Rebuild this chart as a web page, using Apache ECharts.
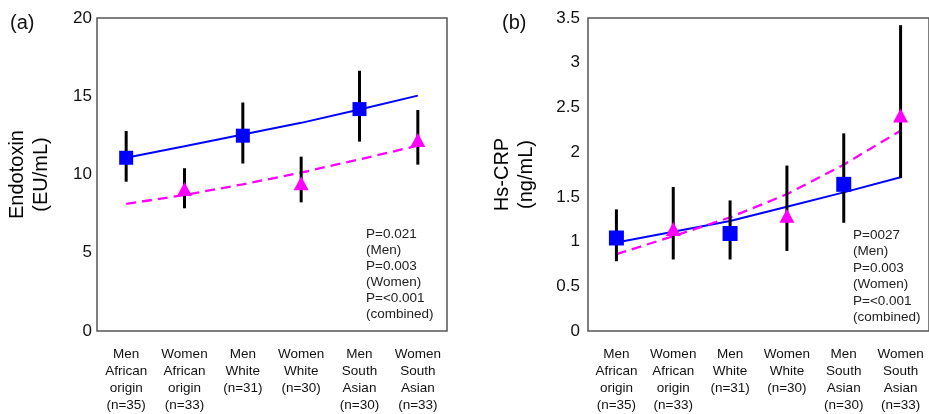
<!DOCTYPE html>
<html><head><meta charset="utf-8">
<script src="https://cdn.jsdelivr.net/npm/echarts@6/dist/echarts.min.js"></script>
<style>html,body{margin:0;padding:0;background:#fff}#c{width:929px;height:414px}</style>
</head><body><div id="c"></div>
<script>
const categories = ['Men\nAfrican\norigin\n(n=35)', 'Women\nAfrican\norigin\n(n=33)', 'Men\nWhite\n(n=31)', 'Women\nWhite\n(n=30)', 'Men\nSouth\nAsian\n(n=30)', 'Women\nSouth\nAsian\n(n=33)'];
const menIdx = [0, 2, 4];
const womenIdx = [1, 3, 5];
// Panel (a) Endotoxin
const aMen = [11.07, 12.48, 14.18];
const aWomen = [9.07, 9.44, 12.2];
const aLow = [9.54, 7.84, 10.7, 8.22, 12.1, 10.63];
const aHigh = [12.78, 10.4, 14.6, 11.14, 16.63, 14.12];
const aMenTrend = [11.07, 11.8, 12.55, 13.3, 14.15, 15.04];
const aWomenTrend = [8.12, 8.69, 9.37, 10.12, 10.97, 11.84];
const aTicks = [0, 5, 10, 15, 20];
// Panel (b) Hs-CRP
const bMen = [1.04, 1.09, 1.64];
const bWomen = [1.14, 1.29, 2.41];
const bLow = [0.78, 0.80, 0.80, 0.895, 1.21, 1.71];
const bHigh = [1.36, 1.61, 1.46, 1.85, 2.21, 3.42];
const bMenTrend = [0.99, 1.11, 1.23, 1.39, 1.55, 1.72];
const bWomenTrend = [0.86, 1.06, 1.27, 1.53, 1.86, 2.24];
const bTicks = [0, 0.5, 1, 1.5, 2, 2.5, 3, 3.5];

const FONT = '"Liberation Sans", Arial, sans-serif';
const BLUE = '#0000ff', MAG = '#ff00ff';

function errRender(params, api) {
  const x = api.value(0);
  const p1 = api.coord([x, api.value(1)]);
  const p2 = api.coord([x, api.value(2)]);
  return {type: 'line', shape: {x1: p1[0], y1: p1[1], x2: p2[0], y2: p2[1]}, style: {stroke: '#000', lineWidth: 3}};
}
function panelSeries(i, men, women, low, high, menT, womenT, sq) {
  return [
    {type: 'line', xAxisIndex: i, yAxisIndex: i, data: menT, symbol: 'none', lineStyle: {color: BLUE, width: 2}, silent: true, z: 2},
    {type: 'line', xAxisIndex: i, yAxisIndex: i, data: womenT, symbol: 'none', lineStyle: {color: MAG, width: 2.3, type: [10, 6]}, silent: true, z: 2},
    {type: 'custom', xAxisIndex: i, yAxisIndex: i, renderItem: errRender, data: low.map((l, k) => [k, l, high[k]]), z: 3},
    {type: 'scatter', xAxisIndex: i, yAxisIndex: i, symbol: 'rect', symbolSize: sq, itemStyle: {color: BLUE, opacity: 1}, data: men.map((v, k) => [menIdx[k], v]), z: 4},
    {type: 'scatter', xAxisIndex: i, yAxisIndex: i, symbol: 'triangle', symbolSize: [15, 14], itemStyle: {color: MAG, opacity: 1}, data: women.map((v, k) => [womenIdx[k], v]), z: 4}
  ];
}
function xAx(i) {
  return {type: 'category', gridIndex: i, data: categories, boundaryGap: true,
    axisLine: {show: false}, axisTick: {show: false}, splitLine: {show: false},
    axisLabel: {interval: 0, margin: 15, fontFamily: FONT, fontSize: 13.5, lineHeight: 17, color: '#111'}};
}
function yAx(i, ticks, name, gap, margin) {
  return {type: 'value', gridIndex: i, min: ticks[0], max: ticks[ticks.length - 1], interval: ticks[1] - ticks[0],
    name: name, nameLocation: 'middle', nameGap: gap, nameRotate: 90,
    nameTextStyle: {fontFamily: FONT, fontSize: 20, lineHeight: 24, color: '#000'},
    axisLine: {show: false}, axisTick: {show: false}, splitLine: {show: false},
    axisLabel: {margin: margin, fontFamily: FONT, fontSize: 17, color: '#111'}};
}
const chart = echarts.init(document.getElementById('c'));
chart.setOption({
  animation: false,
  backgroundColor: '#fff',
  grid: [
    {left: 97, top: 18, width: 350, height: 313, show: true, borderColor: '#555', borderWidth: 1.5, backgroundColor: 'transparent'},
    {left: 588, top: 18, width: 347, height: 314, show: true, borderColor: '#555', borderWidth: 1.5, backgroundColor: 'transparent'}
  ],
  xAxis: [xAx(0), xAx(1)],
  yAxis: [yAx(0, aTicks, 'Endotoxin\n(EU/mL)', 44, 5), yAx(1, bTicks, 'Hs-CRP\n(ng/mL)', 50, 8)],
  series: [].concat(
    panelSeries(0, aMen, aWomen, aLow, aHigh, aMenTrend, aWomenTrend, 14),
    panelSeries(1, bMen, bWomen, bLow, bHigh, bMenTrend, bWomenTrend, 15)
  ),
  graphic: [
    {type: 'text', left: 10, top: 13, style: {text: '(a)', font: '20px ' + FONT, fill: '#111'}},
    {type: 'text', left: 502, top: 13, style: {text: '(b)', font: '20px ' + FONT, fill: '#111'}},
    {type: 'text', left: 366, top: 226, style: {text: 'P=0.021\n(Men)\nP=0.003\n(Women)\nP=<0.001\n(combined)', font: '13.5px ' + FONT, lineHeight: 16, fill: '#222'}},
    {type: 'text', left: 853, top: 227, style: {text: 'P=0027\n(Men)\nP=0.003\n(Women)\nP=<0.001\n(combined)', font: '13.5px ' + FONT, lineHeight: 16.5, fill: '#222'}}
  ]
});
</script></body></html>
